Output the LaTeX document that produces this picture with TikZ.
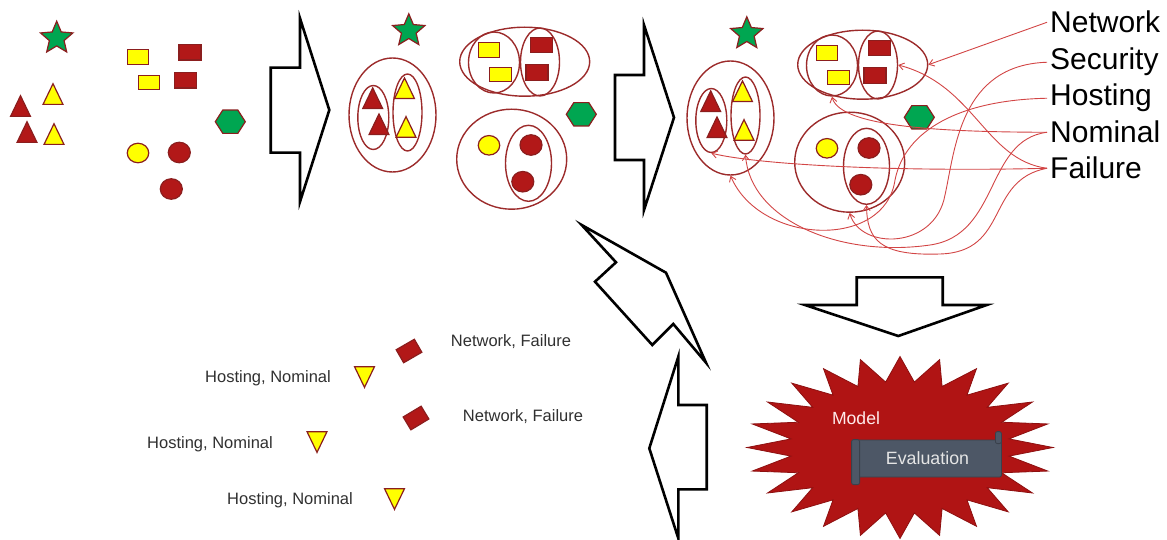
\documentclass[tikz,border=0pt]{standalone}
\usepackage{fontspec}
\setmainfont{Liberation Sans}
\usetikzlibrary{shapes.geometric, arrows.meta}

\definecolor{shapered}{HTML}{B21818}
\definecolor{edgered}{HTML}{8B1E1E}
\definecolor{shapeyellow}{HTML}{FFFF00}
\definecolor{shapegreen}{HTML}{00A651}
\definecolor{ringred}{HTML}{9C2B2B}
\definecolor{linkred}{HTML}{D24545}
\definecolor{burstred}{HTML}{B01414}
\definecolor{slate}{HTML}{4D5766}
\definecolor{notegray}{HTML}{303030}

\tikzset{
  piece/.style={draw=edgered, line width=1.2pt, inner sep=0pt},
  redbox/.style={piece, fill=shapered, minimum width=22pt, minimum height=15.5pt},
  yelbox/.style={piece, fill=shapeyellow, minimum width=21.5pt, minimum height=14.5pt},
  reddot/.style={piece, ellipse, fill=shapered, minimum width=22pt, minimum height=20.5pt},
  yeldot/.style={piece, ellipse, fill=shapeyellow, minimum width=21.5pt, minimum height=19.5pt},
  redtri/.style={piece, regular polygon, regular polygon sides=3, minimum size=23pt, yscale=1.2, fill=shapered},
  yeltri/.style={redtri, fill=shapeyellow},
  downtri/.style={yeltri, shape border rotate=180},
  greenstar/.style={piece, star, star points=5, star point ratio=2.2, minimum size=34pt, fill=shapegreen},
  greenhex/.style={piece, regular polygon, regular polygon sides=6, minimum size=30pt, yscale=0.9, fill=shapegreen},
  ring/.style={draw=ringred, line width=1.4pt, ellipse, inner sep=0pt},
  bigarrow/.style={draw=black, line width=2.6pt, line join=miter, miter limit=20, fill=white},
  link/.style={draw=linkred, line width=0.9pt, -{Straight Barb[length=5pt,width=7pt]}},
  tag/.style={font=\fontsize{30}{36}\selectfont, anchor=base west, inner sep=3pt},
  note/.style={font=\fontsize{16.5}{20}\selectfont, text=notegray},
  burst/.style={fill=burstred, draw=burstred!80!black, line width=0.8pt},
  banner/.style={fill=slate, draw=slate!75!black, line width=0.8pt, rounded corners=1.5pt,
    minimum width=148pt, minimum height=37pt, inner sep=0pt, text=white!90!black,
    font=\fontsize{17.8}{20}\selectfont},
}

\begin{document}
\begin{tikzpicture}[x=1pt, y=-1pt]

\useasboundingbox (0,0) rectangle (1167,540);

\node[greenstar] (s1) at (56.7,38.2) {};
\node[redtri] (t1) at (20.5,109.5) {};
\node[redtri] (t2) at (27,135.5) {};
\node[yeltri] (t3) at (53,97.5) {};
\node[yeltri] (t4) at (54,137.5) {};
\node[yelbox] (r1) at (138,57) {};
\node[redbox] (r2) at (190,52.3) {};
\node[yelbox] (r3) at (149,82.5) {};
\node[redbox] (r4) at (185.3,80.2) {};
\node[greenhex] (h1) at (230.3,121.7) {};
\node[yeldot] (c1) at (138,153) {};
\node[reddot] (c2) at (179.3,152.5) {};
\node[reddot] (c3) at (171.3,189) {};

\draw[bigarrow] (270.7,67.7) -- (300,67.7) -- (300,18.3) -- (329.3,110) -- (300,201.7) -- (300,152.7) -- (270.7,152.7) -- cycle;
\draw[bigarrow] (615,75) -- (644,75) -- (644,25) -- (674,117.5) -- (644,210) -- (644,160) -- (615,160) -- cycle;

\foreach \dx/\dy/\g in {0/0/b, 338/3/c} {
  \begin{scope}[shift={(\dx,\dy)}]
    \node[greenstar] (star\g) at (408.8,30.8) {};
    \node[ring, minimum width=87pt, minimum height=114pt] (triAll\g) at (392.5,115) {};
    \node[ring, minimum width=31pt, minimum height=64pt] (triRed\g) at (373.3,117.5) {};
    \node[ring, minimum width=29pt, minimum height=77pt] (triYel\g) at (407.5,112.5) {};
    \node[redtri] (trA\g) at (372.7,101.7) {};
    \node[redtri] (trB\g) at (379,127.7) {};
    \node[yeltri] (tyA\g) at (404.5,91.7) {};
    \node[yeltri] (tyB\g) at (406,130.4) {};
    \node[ring, minimum width=130pt, minimum height=69pt] (recAll\g) at (524.7,61.7) {};
    \node[ring, minimum width=51pt, minimum height=61pt] (recYel\g) at (494,62.5) {};
    \node[ring, minimum width=39pt, minimum height=68pt] (recRed\g) at (540,62) {};
    \node[yelbox] (ryA\g) at (489,50) {};
    \node[yelbox] (ryB\g) at (500.5,74.5) {};
    \node[redbox] (rrA\g) at (541.7,45) {};
    \node[redbox] (rrB\g) at (537,72.5) {};
    \node[greenhex] (hex\g) at (581.3,114.3) {};
    \node[ring, minimum width=110pt, minimum height=100pt] (cirAll\g) at (511.7,159.2) {};
    \node[ring, minimum width=46pt, minimum height=76pt] (cirRed\g) at (528.5,163.3) {};
    \node[yeldot] (cy\g) at (489,145.3) {};
    \node[reddot] (crA\g) at (531,145) {};
    \node[reddot] (crB\g) at (522.8,181.7) {};
  \end{scope}
}

\node[tag] (lblNet) at (1047,33) {Network};
\node[tag] (lblSec) at (1047,70) {Security};
\node[tag] (lblHost) at (1047,106) {Hosting};
\node[tag] (lblNom) at (1047,143) {Nominal};
\node[tag] (lblFail) at (1047,179) {Failure};

\draw[link] (lblNet.west) -- (recAllc.east);
\draw[link] (lblSec.west) .. controls (960,65) and (955,150) .. (945,195) .. controls (935,250) and (860,250) .. (cirAllc.south);
\draw[link] (lblHost.west) .. controls (960,100) and (905,130) .. (895,180) .. controls (885,250) and (760,245) .. (triAllc.south);
\draw[link] (lblNom.west) .. controls (950,132) and (840,128) .. (recYelc.south);
\draw[link] (lblNom.west) .. controls (985,140) and (1000,235) .. (930,245) .. controls (840,258) and (750,220) .. (triYelc.south);
\draw[link] (lblFail.west) .. controls (985,160) and (975,85) .. (recRedc.east);
\draw[link] (lblFail.west) .. controls (900,172) and (760,165) .. (triRedc.south);
\draw[link] (lblFail.west) .. controls (985,180) and (1010,252) .. (940,254) .. controls (880,256) and (867,240) .. (cirRedc.south);

\draw[bigarrow] (581.7,225) -- (666,272.7) -- (706,362.7) -- (673.3,324) -- (652.3,345) -- (595,281.7) -- (616,262.3) -- cycle;
\draw[bigarrow] (678.3,356.7) -- (678.3,405) -- (706.7,405) -- (706.7,489.3) -- (678.3,489.3) -- (678.3,538.3) -- (649.3,448.3) -- cycle;
\draw[bigarrow] (856.7,277.3) -- (942.7,277.3) -- (942.7,305) -- (986.7,305) -- (898.3,336) -- (805,305) -- (856.7,305) -- cycle;

\fill[burst, shift={(900,447.5)}] (0:153 and 91) \foreach \k in {0,...,23} { -- ({15*\k+7.5}:110 and 66) -- ({15*\k+15}:153 and 91) } -- cycle;
\node[font=\fontsize{17.6}{20}\selectfont, text=white!92!red] (modelTxt) at (856,418) {Model};
\node[banner] (evalBox) at (927.5,458.5) {Evaluation};
\filldraw[fill=slate, draw=slate!75!black, line width=0.8pt, rounded corners=2pt] ([xshift=-1.5pt]evalBox.north west) rectangle ++(8,45);
\filldraw[fill=slate, draw=slate!75!black, line width=0.8pt, rounded corners=2pt] ([xshift=-6.5pt,yshift=8pt]evalBox.north east) rectangle ++(6,12);

\node[redbox, minimum width=21pt, minimum height=15pt, rotate=30] (netA) at (409,351) {};
\node[redbox, minimum width=21pt, minimum height=15pt, rotate=31] (netB) at (416,418) {};
\node[note] (noteNetA) at (511,342) {Network, Failure};
\node[note] (noteNetB) at (523,417) {Network, Failure};
\node[downtri] (hostA) at (364.5,373.6) {};
\node[downtri] (hostB) at (317,438.6) {};
\node[downtri] (hostC) at (394.5,495.6) {};
\node[note] (noteHostA) at (268,378) {Hosting, Nominal};
\node[note] (noteHostB) at (210,444) {Hosting, Nominal};
\node[note] (noteHostC) at (290,500) {Hosting, Nominal};

\end{tikzpicture}
\end{document}
